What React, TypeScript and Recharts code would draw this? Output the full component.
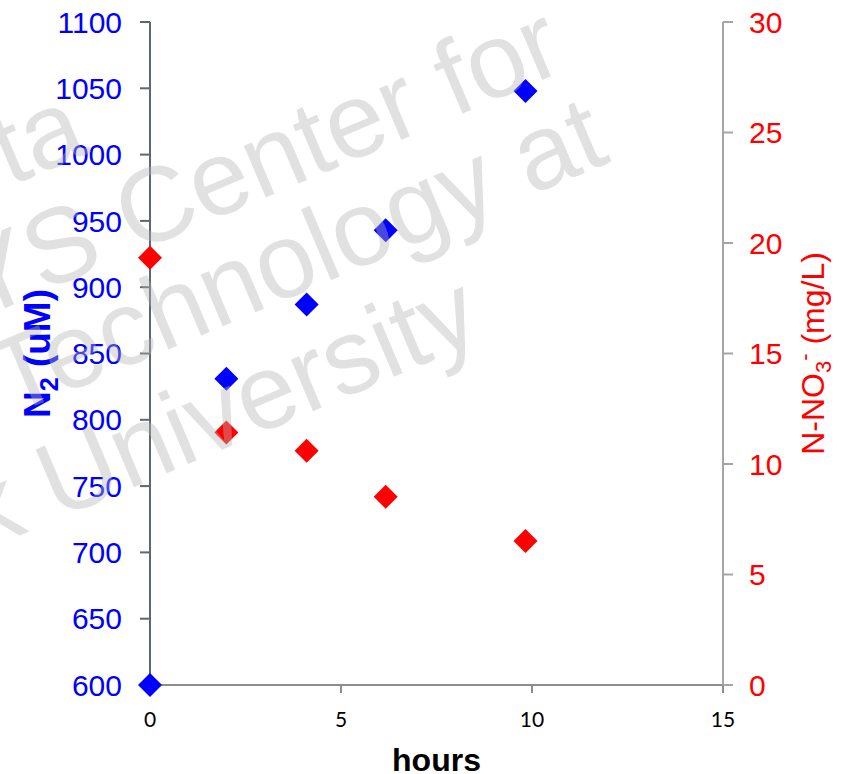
import React from "react";
import { ScatterChart, Scatter, XAxis, YAxis } from "recharts";

// sampling times (hours)
const hours = [0, 2.0, 4.1, 6.17, 9.83];
// dissolved N2 (uM), left axis
const n2Values = [600, 831, 887, 943, 1048];
// nitrate-N (mg/L), right axis
const no3Values = [19.33, 11.43, 10.6, 8.52, 6.52];

const xTicks = [0, 5, 10, 15];
const n2Ticks = [600, 650, 700, 750, 800, 850, 900, 950, 1000, 1050, 1100];
const no3Ticks = [0, 5, 10, 15, 20, 25, 30];

const watermarkLines = ["ta", "YS Center for", "Technology at", "k University"];

const n2Data = hours.map((h, i) => ({ x: h, y: n2Values[i] }));
const no3Data = hours.map((h, i) => ({ x: h, y: no3Values[i] }));

const diamond = (color: string) => (props: any) => {
    const { cx, cy } = props;
    const r = 12;
    return (
        <path
            d={`M${cx},${cy - r} L${cx + r},${cy} L${cx},${cy + r} L${cx - r},${cy} Z`}
            fill={color}
        />
    );
};

const N2Label = (props: any) => {
    const { x, y, height } = props.viewBox;
    const lx = x + 50;
    const ly = y + height / 2;
    return (
        <text
            x={lx}
            y={ly}
            transform={`rotate(-90, ${lx}, ${ly})`}
            textAnchor="middle"
            fill="#0000ff"
            fontFamily="Liberation Sans, Arial, sans-serif"
            fontWeight="bold"
            fontSize={37}
        >
            <tspan>N</tspan>
            <tspan fontSize={25} dy={8}>2</tspan>
            <tspan dy={-8}> (uM)</tspan>
        </text>
    );
};

const No3Label = (props: any) => {
    const { x, y, height } = props.viewBox;
    const lx = x + 101;
    const ly = y + height / 2;
    return (
        <text
            x={lx}
            y={ly}
            transform={`rotate(-90, ${lx}, ${ly})`}
            textAnchor="middle"
            fill="#ff0000"
            fontFamily="Liberation Sans, Arial, sans-serif"
            fontSize={32}
        >
            <tspan>N-NO</tspan>
            <tspan fontSize={22} dy={7}>3</tspan>
            <tspan fontSize={22} dy={-19}>-</tspan>
            <tspan dy={12}> (mg/L)</tspan>
        </text>
    );
};

const HoursLabel = (props: any) => {
    const { x, y, width } = props.viewBox;
    return (
        <text
            x={x + width / 2}
            y={y + 86}
            textAnchor="middle"
            fill="#000"
            fontFamily="Liberation Sans, Arial, sans-serif"
            fontWeight="bold"
            fontSize={32}
        >
            hours
        </text>
    );
};

// baseline end point of each watermark line
const wmEnds = [
    [91, 152],
    [568, 69],
    [612, 161],
    [485, 338],
];

export default function App() {
    return (
        <div style={{ position: "absolute", left: 0, top: 0, width: 842, height: 774, background: "#fff" }}>
            <ScatterChart width={842} height={774} margin={{ top: 22, right: 0, bottom: 0, left: 0 }}>
                <XAxis
                    type="number"
                    dataKey="x"
                    domain={[0, 15]}
                    ticks={xTicks}
                    height={89}
                    stroke="#8d8d8d"
                    strokeWidth={2}
                    tickSize={8}
                    tickMargin={19}
                    tick={{ fontSize: 21, fill: "#000", fontFamily: "Lato, sans-serif" }}
                    label={{ content: HoursLabel }}
                />
                <YAxis
                    yAxisId="n2"
                    type="number"
                    dataKey="y"
                    domain={[600, 1100]}
                    ticks={n2Ticks}
                    width={150}
                    stroke="#5e6673"
                    strokeWidth={2}
                    tickSize={10}
                    tickMargin={18}
                    tick={{ fontSize: 30, fill: "#0000ff", fontFamily: "Liberation Sans, Arial, sans-serif" }}
                    label={{ content: N2Label }}
                />
                <YAxis
                    yAxisId="no3"
                    orientation="right"
                    type="number"
                    dataKey="y"
                    domain={[0, 30]}
                    ticks={no3Ticks}
                    width={119}
                    stroke="#a5a5a5"
                    strokeWidth={2}
                    tickSize={10}
                    tickMargin={16}
                    tick={{ fontSize: 30, fill: "#ff0000", fontFamily: "Liberation Sans, Arial, sans-serif" }}
                    label={{ content: No3Label }}
                />
                <Scatter yAxisId="n2" data={n2Data} fill="#0000ff" shape={diamond("#0000ff")} isAnimationActive={false} />
                <Scatter yAxisId="no3" data={no3Data} fill="#ff0000" shape={diamond("#ff0000")} isAnimationActive={false} />
            </ScatterChart>
            <svg
                width={842}
                height={774}
                style={{ position: "absolute", left: 0, top: 0, pointerEvents: "none" }}
            >
                {watermarkLines.map((line, i) => (
                    <text
                        key={line}
                        x={wmEnds[i][0]}
                        y={wmEnds[i][1]}
                        transform={`rotate(-23, ${wmEnds[i][0]}, ${wmEnds[i][1]})`}
                        textAnchor="end"
                        fontFamily="Liberation Sans, Arial, sans-serif"
                        fontSize={106}
                        fill="#b4b4b4"
                        fillOpacity={0.4}
                    >
                        {line}
                    </text>
                ))}
            </svg>
        </div>
    );
}
